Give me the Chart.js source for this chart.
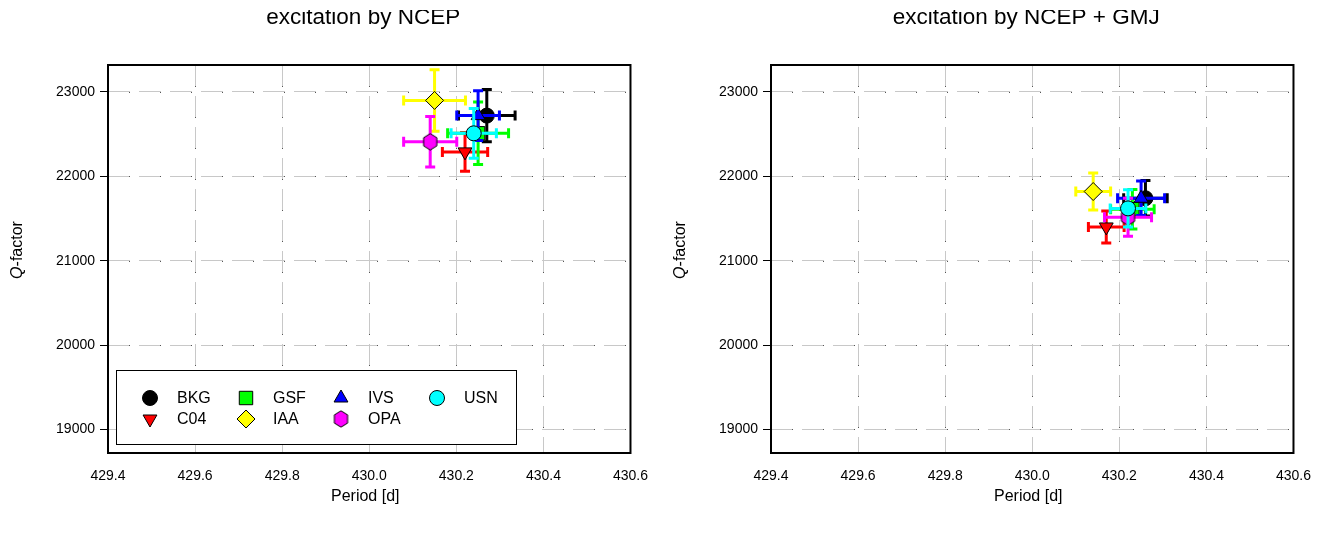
<!DOCTYPE html>
<html>
<head>
<meta charset="utf-8">
<script src="https://cdn.jsdelivr.net/npm/chart.js@4.4.1/dist/chart.umd.min.js"></script>
<style>
body { margin: 0; background: #fff; }
#wrap { display: flex; width: 1326px; height: 538px; }
canvas { display: block; }
</style>
</head>
<body>
<div id="wrap">
  <canvas id="chart-ncep" width="663" height="538"></canvas>
  <canvas id="chart-gmj" width="663" height="538"></canvas>
</div>
<script>
const centers = ['BKG', 'C04', 'GSF', 'IAA', 'IVS', 'OPA', 'USN'];
const centerColors = ['#000000', '#ff0000', '#00ff00', '#ffff00', '#0000ff', '#ff00ff', '#00ffff'];
const markerStyles = ['circle', 'triangleDown', 'rect', 'rectRot', 'triangle', 'hexagon', 'circle'];

// excitation by NCEP
const periodNcep = [430.27, 430.22, 430.25, 430.15, 430.25, 430.14, 430.24];
const periodErrNcep = [0.065, 0.052, 0.070, 0.071, 0.049, 0.061, 0.052];
const qNcep = [22720, 22290, 22510, 22900, 22720, 22410, 22510];
const qErrNcep = [310, 230, 370, 365, 295, 300, 295];

// excitation by NCEP + GMJ
const periodGmj = [430.26, 430.17, 430.23, 430.14, 430.25, 430.22, 430.22];
const periodErrGmj = [0.050, 0.041, 0.050, 0.040, 0.054, 0.054, 0.041];
const qGmj = [21740, 21400, 21610, 21820, 21740, 21515, 21620];
const qErrGmj = [210, 190, 235, 220, 205, 225, 220];

const periodTicks = [429.4, 429.6, 429.8, 430.0, 430.2, 430.4, 430.6];
const qTicks = [19000, 20000, 21000, 22000, 23000];

const FONT = '"Liberation Sans", Arial, Helvetica, sans-serif';
const DASH = [22, 9];

// hexagon marker (no built-in pointStyle for it)
function makeHexagon() {
    const c = document.createElement('canvas');
    c.width = 17; c.height = 18;
    const g = c.getContext('2d');
    g.beginPath();
    for (let k = 0; k < 6; k++) {
        const a = Math.PI / 2 + k * Math.PI / 3;
        const px = 8.5 + 7.6 * Math.cos(a), py = 9 - 8.2 * Math.sin(a);
        if (k === 0) g.moveTo(px, py); else g.lineTo(px, py);
    }
    g.closePath();
    g.fillStyle = '#ff00ff';
    g.fill();
    g.strokeStyle = '#000';
    g.lineWidth = 1;
    g.stroke();
    return c;
}
const hexImg = makeHexagon();

function pointOpts(style) {
    switch (style) {
        case 'circle': return { pointStyle: 'circle', radius: 7.5, rotation: 0 };
        case 'triangleDown': return { pointStyle: 'triangle', radius: 8, rotation: 180 };
        case 'triangle': return { pointStyle: 'triangle', radius: 8, rotation: 0 };
        case 'rect': return { pointStyle: 'rect', radius: 9.5, rotation: 0 };
        case 'rectRot': return { pointStyle: 'rectRot', radius: 9, rotation: 0 };
        case 'hexagon': return { pointStyle: hexImg, radius: 8, rotation: 0 };
    }
}

function drawMarker(ctx, i, x, y) {
    const o = pointOpts(markerStyles[i]);
    ctx.save();
    if (o.pointStyle === hexImg) {
        ctx.drawImage(hexImg, x - hexImg.width / 2, y - hexImg.height / 2);
    } else {
        ctx.fillStyle = centerColors[i];
        ctx.strokeStyle = '#000';
        ctx.lineWidth = 1;
        Chart.helpers.drawPoint(ctx, { pointStyle: o.pointStyle, radius: o.radius, rotation: o.rotation, borderWidth: 1 }, x, y);
    }
    ctx.restore();
}

// small dark dots at the end of each grid dash, as in the original
const gridDotPlugin = {
    id: 'gridDots',
    beforeDatasetsDraw(chart) {
        const { ctx, chartArea: a, scales: { x, y } } = chart;
        const period = DASH[0] + DASH[1];
        ctx.save();
        ctx.fillStyle = '#555';
        x.ticks.forEach(t => {
            const px = Math.round(x.getPixelForValue(t.value));
            if (px <= a.left + 2 || px >= a.right - 2) return;
            for (let d = a.top + DASH[0]; d < a.bottom; d += period) ctx.fillRect(px, d - 1, 1, 1);
        });
        y.ticks.forEach(t => {
            const py = Math.round(y.getPixelForValue(t.value));
            for (let d = a.left + DASH[0]; d < a.right; d += period) ctx.fillRect(d - 1, py, 1, 1);
        });
        ctx.restore();
    }
};

// error bars drawn just before each centre's marker
const errorBarPlugin = {
    id: 'errorBars',
    beforeDatasetDraw(chart, args) {
        const eb = chart.options.plugins.errorBars;
        const i = args.index;
        const { ctx, scales: { x, y } } = chart;
        const px = x.getPixelForValue(eb.periods[i]);
        const py = y.getPixelForValue(eb.qs[i]);
        const x0 = x.getPixelForValue(eb.periods[i] - eb.periodErrs[i]);
        const x1 = x.getPixelForValue(eb.periods[i] + eb.periodErrs[i]);
        const y0 = y.getPixelForValue(eb.qs[i] - eb.qErrs[i]);
        const y1 = y.getPixelForValue(eb.qs[i] + eb.qErrs[i]);
        const cap = 5;
        ctx.save();
        ctx.strokeStyle = centerColors[i];
        ctx.lineWidth = 3;
        ctx.beginPath();
        ctx.moveTo(x0, py); ctx.lineTo(x1, py);
        ctx.moveTo(px, y0); ctx.lineTo(px, y1);
        ctx.moveTo(x0, py - cap); ctx.lineTo(x0, py + cap);
        ctx.moveTo(x1, py - cap); ctx.lineTo(x1, py + cap);
        ctx.moveTo(px - cap, y0); ctx.lineTo(px + cap, y0);
        ctx.moveTo(px - cap, y1); ctx.lineTo(px + cap, y1);
        ctx.stroke();
        ctx.restore();
    }
};

// frame, titles and the in-plot legend
const decorPlugin = {
    id: 'decor',
    afterDraw(chart) {
        const o = chart.options.plugins.decor;
        const { ctx, chartArea: a } = chart;
        const cx = (a.left + a.right) / 2;
        ctx.save();
        ctx.strokeStyle = '#000';
        ctx.lineWidth = 2;
        ctx.strokeRect(a.left, a.top, a.right - a.left, a.bottom - a.top);

        ctx.fillStyle = '#000';
        // axis titles
        ctx.font = '16px ' + FONT;
        ctx.textAlign = 'center';
        ctx.textBaseline = 'middle';
        ctx.fillText('Period [d]', cx - 4, 497);

        ctx.save();
        ctx.translate(17.5, 250);
        ctx.rotate(-Math.PI / 2);
        ctx.textAlign = 'left';
        ctx.font = 'italic 16px ' + FONT;
        const wq = ctx.measureText('Q').width;
        ctx.font = '16px ' + FONT;
        const wr = ctx.measureText('-factor').width;
        const start = -(wq + wr) / 2;
        ctx.font = 'italic 16px ' + FONT;
        ctx.fillText('Q', start, 0);
        ctx.font = '16px ' + FONT;
        ctx.fillText('-factor', start + wq, 0);
        ctx.restore();

        // panel title, cut at the top like the original figure
        ctx.save();
        ctx.beginPath();
        ctx.rect(0, 10, chart.width, chart.height);
        ctx.clip();
        ctx.font = '22.5px ' + FONT;
        ctx.textAlign = 'center';
        ctx.textBaseline = 'alphabetic';
        ctx.fillText(o.title, cx - 6, 24);
        ctx.restore();

        if (o.legend) {
            ctx.fillStyle = '#fff';
            ctx.fillRect(116, 370, 400, 74);
            ctx.strokeStyle = '#000';
            ctx.lineWidth = 1;
            ctx.strokeRect(116.5, 370.5, 400, 74);
            const colX = [150, 246, 341, 437];
            const rowY = [398, 419];
            const slots = [[0, 0], [1, 0], [0, 1], [1, 1], [0, 2], [1, 2], [0, 3]];
            ctx.font = '16px ' + FONT;
            ctx.textAlign = 'left';
            ctx.textBaseline = 'middle';
            centers.forEach((name, i) => {
                const [r, c] = slots[i];
                drawMarker(ctx, i, colX[c], rowY[r]);
                ctx.fillStyle = '#000';
                ctx.fillText(name, colX[c] + 27, rowY[r] + 1);
            });
        }
        ctx.restore();
    }
};

function buildChart(id, title, periods, periodErrs, qs, qErrs, legend) {
    const datasets = centers.map((name, i) => {
        const p = pointOpts(markerStyles[i]);
        return {
            label: name,
            data: [{ x: periods[i], y: qs[i] }],
            order: centers.length - i,
            backgroundColor: centerColors[i],
            borderColor: '#000',
            borderWidth: 1,
            pointStyle: p.pointStyle,
            pointRadius: p.radius,
            pointHoverRadius: p.radius,
            rotation: p.rotation
        };
    });

    return new Chart(document.getElementById(id), {
        type: 'scatter',
        data: { datasets: datasets },
        options: {
            responsive: false,
            animation: false,
            devicePixelRatio: 1,
            layout: { padding: { top: 65, right: 32, bottom: 0, left: 0 } },
            plugins: {
                legend: { display: false },
                tooltip: { enabled: false },
                errorBars: { periods: periods, periodErrs: periodErrs, qs: qs, qErrs: qErrs },
                decor: { title: title, legend: legend }
            },
            scales: {
                x: {
                    type: 'linear',
                    min: 429.4,
                    max: 430.6,
                    afterBuildTicks: s => { s.ticks = periodTicks.map(v => ({ value: v })); },
                    afterFit: s => { s.height = 85; },
                    ticks: {
                        autoSkip: false,
                        maxRotation: 0,
                        padding: 15,
                        color: '#000',
                        font: { family: FONT, size: 14 },
                        callback: v => Number(v).toFixed(1)
                    },
                    grid: { color: '#c8c8c8', lineWidth: 1, drawTicks: false },
                    border: { display: false, dash: DASH }
                },
                y: {
                    type: 'linear',
                    min: 18720,
                    max: 23320,
                    afterBuildTicks: s => { s.ticks = qTicks.map(v => ({ value: v })); },
                    afterFit: s => { s.width = 108; },
                    ticks: {
                        autoSkip: false,
                        padding: 5,
                        color: '#000',
                        font: { family: FONT, size: 14 },
                        callback: v => String(v)
                    },
                    grid: { color: '#c8c8c8', lineWidth: 1, drawTicks: true, tickLength: 8, tickColor: '#000', tickWidth: 1 },
                    border: { display: false, dash: DASH }
                }
            }
        },
        plugins: [gridDotPlugin, errorBarPlugin, decorPlugin]
    });
}

buildChart('chart-ncep', 'excitation by NCEP', periodNcep, periodErrNcep, qNcep, qErrNcep, true);
buildChart('chart-gmj', 'excitation by NCEP + GMJ', periodGmj, periodErrGmj, qGmj, qErrGmj, false);
</script>
</body>
</html>
